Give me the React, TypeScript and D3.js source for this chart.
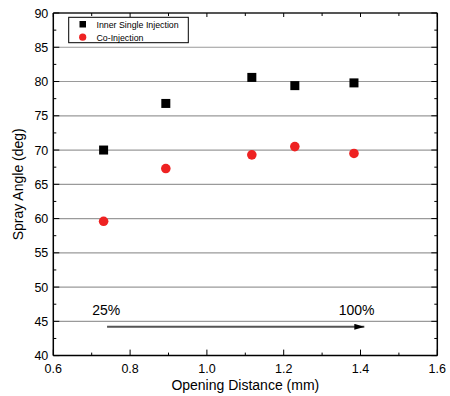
import React from "react";
import * as d3 from "d3";

const xValues = [0.731, 0.893, 1.117, 1.229, 1.383];
const innerSingle = [70.0, 76.8, 80.6, 79.4, 79.8];
const coInjection = [59.6, 67.3, 69.3, 70.5, 69.5];
const xTicks = [0.6, 0.8, 1.0, 1.2, 1.4, 1.6];
const yTicks = [40, 45, 50, 55, 60, 65, 70, 75, 80, 85, 90];
const seriesNames = ["Inner Single Injection", "Co-Injection"];
const arrowLabels = ["25%", "100%"];
const arrowRange = [0.74, 1.41];
const arrowY = 44.2;

const W = 450, H = 396;
const L = 53.3, R = 437.3, T = 13, B = 355.6;
const font = "Liberation Sans, Arial, sans-serif";

export default function App() {
  const x = d3.scaleLinear().domain([0.6, 1.6]).range([L, R]);
  const y = d3.scaleLinear().domain([40, 90]).range([B, T]);
  const xMinor = d3.range(0.7, 1.6, 0.2);
  const yMinor = d3.range(42.5, 90, 5);
  return (
    <svg width={W} height={H} style={{ position: "absolute", left: 0, top: 0 }} fontFamily={font}>
      <defs>
        <marker id="ah" viewBox="0 0 10 6" refX="10" refY="3" markerWidth="10" markerHeight="6" markerUnits="userSpaceOnUse" orient="auto">
          <path d="M0,0 L10,3 L0,6 Z" fill="#000" />
        </marker>
      </defs>
      <rect x={0} y={0} width={W} height={H} fill="#fff" />
      {yTicks.slice(1, -1).map((t) => (
        <line key={"g" + t} x1={L} x2={R} y1={y(t)} y2={y(t)} stroke="#9a9a9a" strokeWidth={1.2} />
      ))}
      <line x1={L} x2={R} y1={T} y2={T} stroke="#555" strokeWidth={1.8} />
      <line x1={R} x2={R} y1={T} y2={B} stroke="#000" strokeWidth={1.5} />
      <line x1={L} x2={L} y1={T} y2={B} stroke="#000" strokeWidth={1.5} />
      <line x1={L} x2={R} y1={B} y2={B} stroke="#000" strokeWidth={1.5} />
      {xTicks.map((t) => (
        <g key={"xt" + t}>
          <line x1={x(t)} x2={x(t)} y1={B} y2={B - 6} stroke="#000" strokeWidth={1} />
          <line x1={x(t)} x2={x(t)} y1={T} y2={T + 4} stroke="#000" strokeWidth={1} />
          <text x={x(t)} y={B + 17.2} textAnchor="middle" fontSize={12.5} fill="#000">{t.toFixed(1)}</text>
        </g>
      ))}
      {xMinor.map((t) => (
        <g key={"xm" + t}>
          <line x1={x(t)} x2={x(t)} y1={B} y2={B - 3} stroke="#000" strokeWidth={1} />
          <line x1={x(t)} x2={x(t)} y1={T} y2={T + 3} stroke="#000" strokeWidth={1} />
        </g>
      ))}
      {yTicks.map((t) => (
        <g key={"yt" + t}>
          <line x1={L} x2={L + 6} y1={y(t)} y2={y(t)} stroke="#000" strokeWidth={1} />
          <line x1={R} x2={R - 6} y1={y(t)} y2={y(t)} stroke="#000" strokeWidth={1} />
          <text x={L - 5} y={y(t) + 4.5} textAnchor="end" fontSize={12.5} fill="#000">{t}</text>
        </g>
      ))}
      {yMinor.map((t) => (
        <g key={"ym" + t}>
          <line x1={L} x2={L + 3} y1={y(t)} y2={y(t)} stroke="#000" strokeWidth={1} />
          <line x1={R} x2={R - 3} y1={y(t)} y2={y(t)} stroke="#000" strokeWidth={1} />
        </g>
      ))}
      {xValues.map((v, i) => (
        <rect key={"s" + i} x={x(v) - 4.5} y={y(innerSingle[i]) - 4.5} width={9} height={9} fill="#000" />
      ))}
      {xValues.map((v, i) => (
        <circle key={"c" + i} cx={x(v)} cy={y(coInjection[i])} r={4.8} fill="#ee2222" />
      ))}
      <line x1={x(arrowRange[0])} x2={x(arrowRange[1])} y1={y(arrowY)} y2={y(arrowY)} stroke="#555" strokeWidth={2} markerEnd="url(#ah)" />
      <text x={x(0.738)} y={y(45.9)} textAnchor="middle" fontSize={14} fill="#000">{arrowLabels[0]}</text>
      <text x={x(1.39)} y={y(45.9)} textAnchor="middle" fontSize={14} fill="#000">{arrowLabels[1]}</text>
      <rect x={68.7} y={17.3} width={119.6} height={25.4} fill="#fff" stroke="#000" strokeWidth={1} />
      <rect x={79.5} y={21} width={6.5} height={6.5} fill="#000" />
      <circle cx={82.7} cy={37.2} r={3.6} fill="#ee2222" />
      <text x={96.5} y={27.8} fontSize={8.8} fill="#000">{seriesNames[0]}</text>
      <text x={96.5} y={40.5} fontSize={8.8} fill="#000">{seriesNames[1]}</text>
      <text x={(L + R) / 2} y={389.5} textAnchor="middle" fontSize={14} fill="#000">Opening Distance (mm)</text>
      <text transform={`translate(23,${(T + B) / 2}) rotate(-90)`} textAnchor="middle" fontSize={14} fill="#000">Spray Angle (deg)</text>
    </svg>
  );
}
